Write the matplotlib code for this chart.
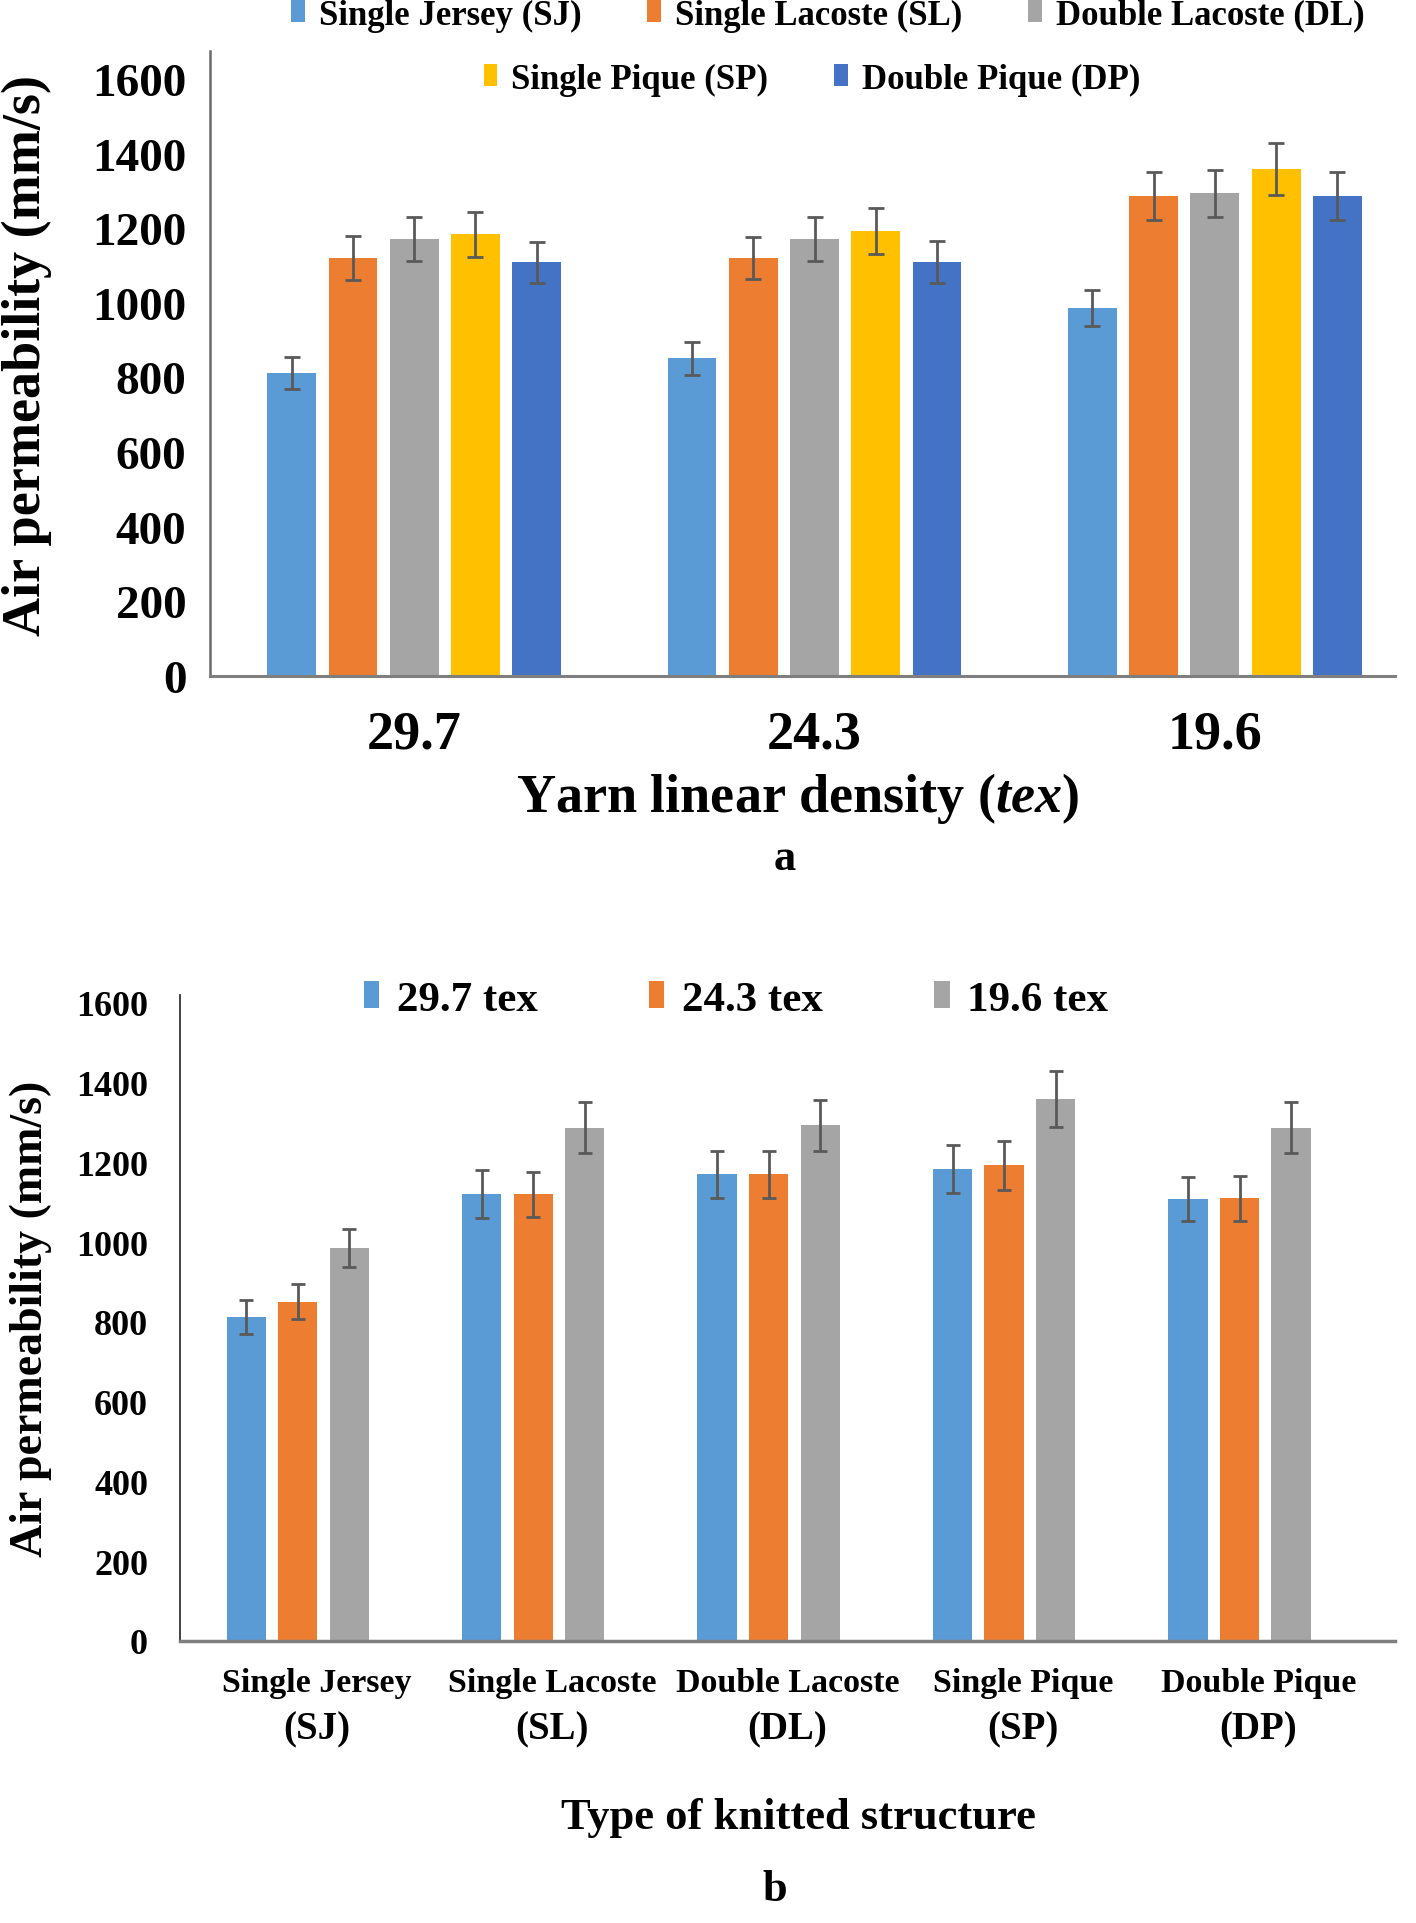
import numpy as np
import matplotlib
matplotlib.use("Agg")
import matplotlib.pyplot as plt
from matplotlib.patches import Patch

plt.rcParams['font.family'] = ['Liberation Serif', 'DejaVu Serif']
plt.rcParams['font.weight'] = 'bold'
plt.rcParams['mathtext.fontset'] = 'custom'
plt.rcParams['mathtext.rm'] = 'Liberation Serif:bold'
plt.rcParams['mathtext.it'] = 'Liberation Serif:italic:bold'
plt.rcParams['mathtext.bf'] = 'Liberation Serif:bold'

# ---- data ----
tex_labels = ["29.7", "24.3", "19.6"]
tex_legend = ["29.7 tex", "24.3 tex", "19.6 tex"]
structures = ["Single Jersey (SJ)", "Single Lacoste (SL)", "Double Lacoste (DL)",
              "Single Pique (SP)", "Double Pique (DP)"]
struct_line1 = ["Single Jersey", "Single Lacoste", "Double Lacoste", "Single Pique", "Double Pique"]
struct_line2 = ["(SJ)", "(SL)", "(DL)", "(SP)", "(DP)"]

# values[structure][tex]
SJ = [812, 851, 985]
SL = [1120, 1120, 1287]
DL = [1170, 1170, 1293]
SP = [1183, 1193, 1359]
DP = [1108, 1110, 1287]
SJ_err = [42, 44, 48]
SL_err = [60, 57, 64]
DL_err = [59, 59, 64]
SP_err = [60, 62, 70]
DP_err = [56, 56, 64]

values = np.array([SJ, SL, DL, SP, DP])
errors = np.array([SJ_err, SL_err, DL_err, SP_err, DP_err])

struct_colors = ["#5B9BD5", "#ED7D31", "#A5A5A5", "#FFC000", "#4472C4"]
tex_colors = ["#5B9BD5", "#ED7D31", "#A5A5A5"]
err_color = "#595959"
yticks = [0, 200, 400, 600, 800, 1000, 1200, 1400, 1600]

W, H = 1416, 1924
fig = plt.figure(figsize=(W / 100, H / 100), dpi=100)

def fx(px):
    return px / W

def fy(py):
    return 1 - py / H

# ================= Top chart (a) =================
axA = fig.add_axes([fx(210), fy(677), fx(1395) - fx(210), fy(51.5) - fy(677)])
x = np.arange(len(tex_labels))
pitch = 0.153
bw = 0.122
for i, name in enumerate(structures):
    off = (i - 2) * pitch
    axA.bar(x + off, values[i], width=bw, color=struct_colors[i], label=name, zorder=2)
    axA.errorbar(x + off, values[i], yerr=errors[i], fmt='none', ecolor=err_color,
                 elinewidth=2, capsize=6, capthick=2, zorder=3)
axA.set_xlim(-0.51, 2.45)
axA.set_ylim(0, 1676)
axA.set_yticks(yticks)
axA.set_yticklabels([str(v) for v in yticks], fontsize=34, fontweight='bold')
axA.set_xticks(x)
axA.set_xticklabels(tex_labels, fontsize=39, fontweight='bold')
axA.tick_params(axis='y', length=0, pad=17)
axA.tick_params(axis='x', length=0, pad=24)
for s in ['top', 'right']:
    axA.spines[s].set_visible(False)
axA.spines['left'].set_color('#6b6b6b')
axA.spines['left'].set_linewidth(1.8)
axA.spines['bottom'].set_color('#7f7f7f')
axA.spines['bottom'].set_linewidth(2.2)

fig.text(fx(27), fy(356), "Air permeability (mm/s)", rotation=90, ha='center', va='center',
         fontsize=39, fontweight='bold')
fig.text(fx(798), fy(798), r"Yarn linear density ($\mathit{tex}$)", ha='center', va='center',
         fontsize=39, fontweight='bold')
fig.text(fx(785), fy(859), "a", ha='center', va='center', fontsize=32, fontweight='bold')

handles = [Patch(facecolor=c) for c in struct_colors]
fig.legend(handles[:3], structures[:3], loc='center', bbox_to_anchor=(fx(828), fy(16)),
           ncol=3, frameon=False, prop={'size': 25, 'weight': 'bold'},
           handlelength=0.4, handleheight=0.6, handletextpad=0.4, columnspacing=1.9,
           borderaxespad=0, borderpad=0)
fig.legend(handles[3:], structures[3:], loc='center', bbox_to_anchor=(fx(812), fy(80)),
           ncol=2, frameon=False, prop={'size': 25, 'weight': 'bold'},
           handlelength=0.4, handleheight=0.6, handletextpad=0.4, columnspacing=1.9,
           borderaxespad=0, borderpad=0)

# ================= Bottom chart (b) =================
axB = fig.add_axes([fx(180), fy(1642), fx(1395) - fx(180), fy(996) - fy(1642)])
xs = np.arange(len(structures))
pitch2 = 0.219
bw2 = 0.167
for j, name in enumerate(tex_legend):
    off = (j - 1) * pitch2
    axB.bar(xs + off, values[:, j], width=bw2, color=tex_colors[j], label=name, zorder=2)
    axB.errorbar(xs + off, values[:, j], yerr=errors[:, j], fmt='none', ecolor=err_color,
                 elinewidth=2, capsize=5, capthick=2, zorder=3)
axB.set_xlim(-0.5, 4.66)
axB.set_ylim(0, 1620)
axB.set_yticks(yticks)
axB.set_yticklabels([str(v) for v in yticks], fontsize=26, fontweight='bold')
axB.set_xticks(xs)
axB.set_xticklabels([])
axB.tick_params(axis='y', length=0, pad=23)
axB.tick_params(axis='x', length=0)
for s in ['top', 'right']:
    axB.spines[s].set_visible(False)
axB.spines['left'].set_color('#333333')
axB.spines['left'].set_linewidth(1.3)
axB.spines['bottom'].set_color('#7f7f7f')
axB.spines['bottom'].set_linewidth(2.5)

tr = axB.get_xaxis_transform()
for k in range(len(structures)):
    axB.text(xs[k] + 0.08, -0.0635, struct_line1[k], transform=tr, ha='center', va='center',
             fontsize=24.5, fontweight='bold')
    axB.text(xs[k] + 0.08, -0.136, struct_line2[k], transform=tr, ha='center', va='center',
             fontsize=28, fontweight='bold')

fig.text(fx(31), fy(1319), "Air permeability (mm/s)", rotation=90, ha='center', va='center',
         fontsize=33, fontweight='bold')
fig.text(fx(798), fy(1818), "Type of knitted structure", ha='center', va='center',
         fontsize=32, fontweight='bold')
fig.text(fx(775), fy(1890), "b", ha='center', va='center', fontsize=32, fontweight='bold')

handlesB = [Patch(facecolor=c) for c in tex_colors]
fig.legend(handlesB, tex_legend, loc='center', bbox_to_anchor=(fx(736), fy(1001)),
           ncol=3, frameon=False, prop={'size': 31, 'weight': 'bold'},
           handlelength=0.35, handleheight=0.6, handletextpad=0.4, columnspacing=2.6,
           borderaxespad=0, borderpad=0)

fig.savefig("out.png", dpi=100)
